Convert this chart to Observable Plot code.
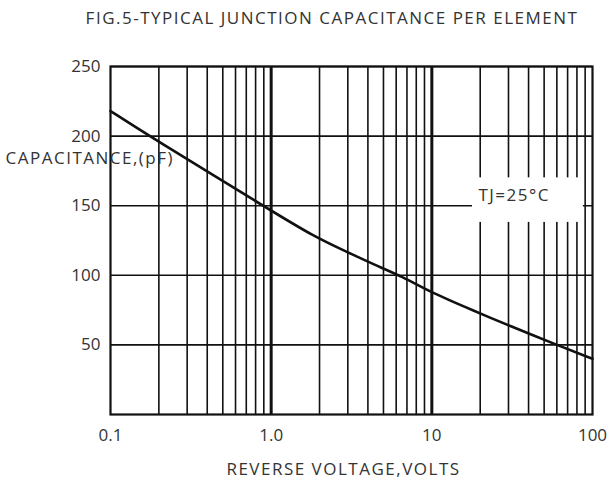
<!DOCTYPE html>
<html>
<head>
<meta charset="utf-8">
<script src="https://cdn.jsdelivr.net/npm/d3@7"></script>
<script src="https://cdn.jsdelivr.net/npm/@observablehq/plot@0.6"></script>
<style>
  html, body { margin: 0; padding: 0; background: #fff; }
  #title { width: 610px; height: 40px; box-sizing: border-box; padding-left: 54px; padding-top: 6px;
           text-align: center; font-family: "Open Sans", sans-serif; font-size: 17px; color: #333;
           letter-spacing: 1.5px; white-space: nowrap; }
  #chart svg { display: block; }
  #chart svg g[aria-label="text"] text { letter-spacing: 1.5px; }
</style>
</head>
<body>
<div id="title">FIG.5-TYPICAL JUNCTION CAPACITANCE PER ELEMENT</div>
<div id="chart"></div>
<script>
// Curve
const voltage = [0.1, 0.18, 0.92, 1.86, 3.07, 4.3, 6.6, 9.7, 18.7, 30, 63, 100];
const capacitance = [218, 199, 149, 127.5, 116, 108, 99, 88, 74, 64, 49, 40];

// Axes
const xTicks = [0.1, 1, 10, 100];
const xTickLabels = ["0.1", "1.0", "10", "100"];
const yTicks = [50, 100, 150, 200, 250];
const xMinor = [0.2,0.3,0.4,0.5,0.6,0.7,0.8,0.9, 2,3,4,5,6,7,8,9, 20,30,40,50,60,70,80,90];
const xMajor = [1, 10];

const xLabel = "REVERSE VOLTAGE,VOLTS";
const yLabel = "CAPACITANCE,(pF)";
const note = "TJ=25°C";
// label box (data units)
const noteBox = [{x1: 17.9, x2: 87.7, y1: 138, y2: 170}];
const notePos = [{x: 19.5, y: 157, text: note}];
const yLabelPos = [{x: 0.1, y: 184, text: yLabel}];

const data = voltage.map((v, i) => ({v, c: capacitance[i]}));
const font = "Open Sans, sans-serif";

const chart = Plot.plot({
  width: 610,
  height: 447,
  marginTop: 26,
  marginBottom: 73,
  marginLeft: 110,
  marginRight: 18,
  style: {fontFamily: font, fontSize: "17px", color: "#333", background: "#fff"},
  x: {type: "log", domain: [0.1, 100]},
  y: {domain: [0, 250]},
  marks: [
    Plot.ruleX(xMinor, {stroke: "#111", strokeWidth: 1.6}),
    Plot.ruleX(xMajor, {stroke: "#111", strokeWidth: 3}),
    Plot.ruleY(yTicks, {stroke: "#111", strokeWidth: 1.6}),
    Plot.frame({stroke: "#111", strokeWidth: 2.2}),
    Plot.rect(noteBox, {x1: "x1", x2: "x2", y1: "y1", y2: "y2", fill: "white"}),
    Plot.text(notePos, {x: "x", y: "y", text: "text", textAnchor: "start", fontSize: 17, fill: "#333"}),
    Plot.axisX(xTicks, {tickSize: 0, tickPadding: 14, tickFormat: d => xTickLabels[xTicks.indexOf(d)], label: null, fontSize: 17, fill: "#333"}),
    Plot.axisY(yTicks, {tickSize: 0, tickPadding: 10, label: null, fontSize: 17, fill: "#333"}),
    Plot.text(yLabelPos, {x: "x", y: "y", text: "text", textAnchor: "start", dx: -105, fontSize: 17, fill: "#333"}),
    Plot.text([xLabel], {frameAnchor: "bottom", dy: 60, dx: -8, fontSize: 17, fill: "#333"}),
    Plot.line(data, {x: "v", y: "c", curve: "basis", stroke: "#111", strokeWidth: 2.6})
  ]
});
document.getElementById("chart").appendChild(chart);
</script>
</body>
</html>
